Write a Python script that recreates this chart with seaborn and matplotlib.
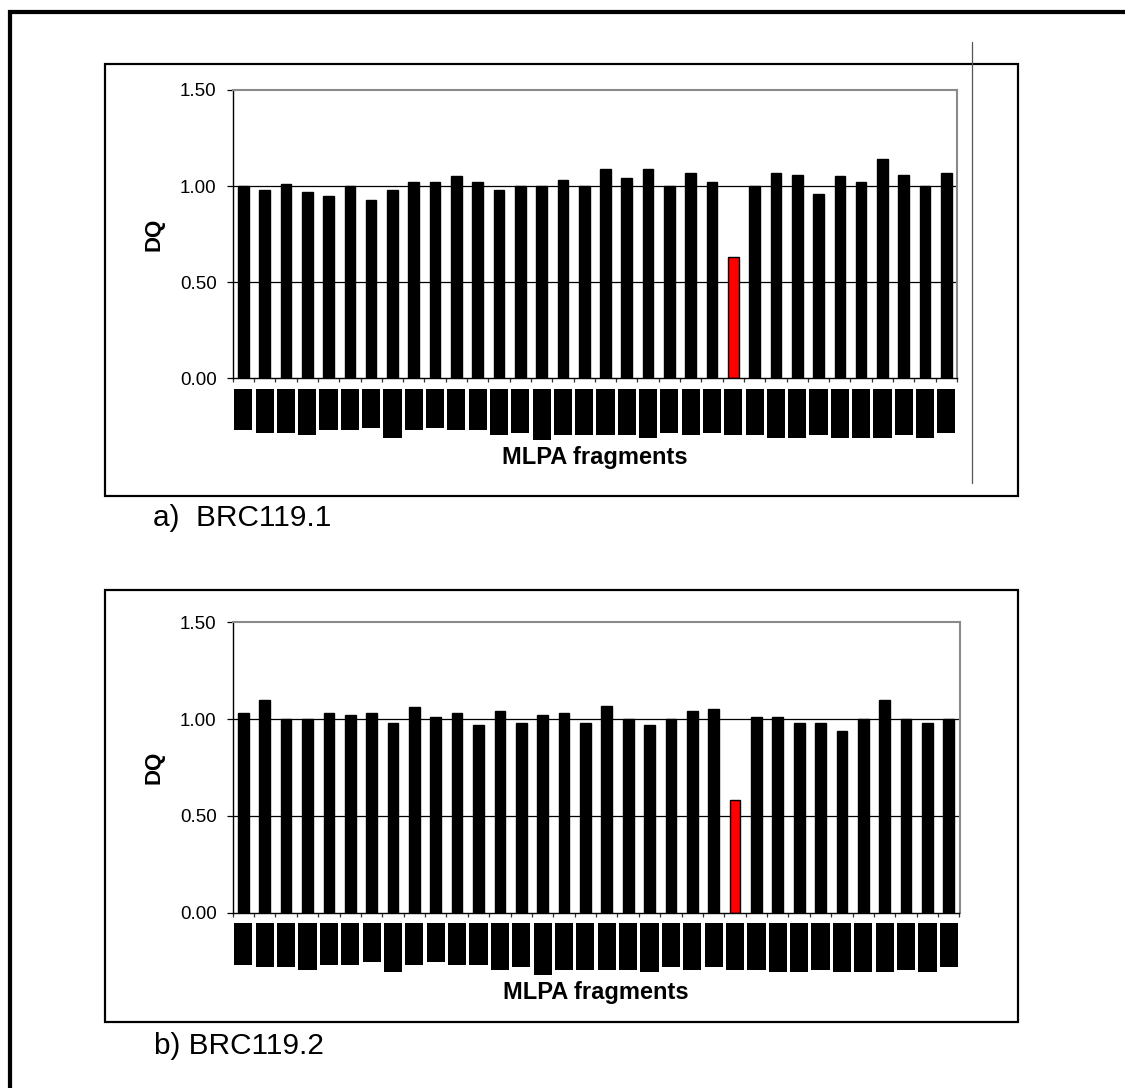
import matplotlib
matplotlib.use("Agg")
import matplotlib.pyplot as plt
from matplotlib.lines import Line2D
from matplotlib.patches import Rectangle
import seaborn as sns
import pandas as pd

# ---------------- data ----------------
fragments = [
    "BRCA1 ex 1a", "BRCA1 exon 2", "BRCA1 exon 3", "BRCA1 exon 5a", "BRCA1 ex 5b",
    "BRCA1 ex 6a", "BRCA1 ex 7", "BRCA1 exon 8ab", "BRCA1 ex 10", "BRCA2 ex 2",
    "BRCA2 ex 3a", "BRCA2 ex 3b", "BRCA2 exon 5a", "BRCA2 exon 7", "BRCA2 exon 10ab",
    "BRCA2 exon 11", "BRCA2 exon 12", "BRCA2 exon 14", "BRCA2 exon 16", "BRCA2 exon 18a",
    "BRCA2 exon 9", "BRCA2 exon 20", "BRCA2 exon 6", "BRCA2 exon 22", "BRCA2 exon 23",
    "BRCA2 exon 24a", "BRCA2 exon 25b", "BRCA2 exon 26", "BRCA2 exon 27a", "BRCA2 exon 27b",
    "BRCA2 exon 27c", "CHEK2 exon 10", "control 5q31.2", "control 7p14",
]

dq_brc119_1 = [1.00, 0.98, 1.01, 0.97, 0.95, 1.00, 0.93, 0.98, 1.02, 1.02,
               1.05, 1.02, 0.98, 1.00, 1.00, 1.03, 1.00, 1.09, 1.04, 1.09,
               1.00, 1.07, 1.02, 0.63, 1.00, 1.07, 1.06, 0.96, 1.05, 1.02,
               1.14, 1.06, 1.00, 1.07]

dq_brc119_2 = [1.03, 1.10, 1.00, 1.00, 1.03, 1.02, 1.03, 0.98, 1.06, 1.01,
               1.03, 0.97, 1.04, 0.98, 1.02, 1.03, 0.98, 1.07, 1.00, 0.97,
               1.00, 1.04, 1.05, 0.58, 1.01, 1.01, 0.98, 0.98, 0.94, 1.00,
               1.10, 1.00, 0.98, 1.00]

deleted_fragment = "BRCA2 exon 22"
y_ticks = [0.0, 0.5, 1.0, 1.5]
panel_captions = ["a)  BRC119.1", "b) BRC119.2"]
y_title = "DQ"
x_title = "MLPA fragments"

# ---------------- style ----------------
sns.set_theme(style="white")
plt.rcParams["font.family"] = ["Liberation Sans", "DejaVu Sans"]
plt.rcParams["text.color"] = "black"
plt.rcParams["axes.labelcolor"] = "black"
plt.rcParams["xtick.color"] = "black"
plt.rcParams["ytick.color"] = "black"

W, H = 1125, 1088
fig = plt.figure(figsize=(W / 100, H / 100), dpi=100)


def fx(x):
    return x / W


def fy(y):
    return 1 - y / H


def px2pt(p):
    return p * 0.72


colors = ["#FF0000" if f == deleted_fragment else "#000000" for f in fragments]

# page frame (left + top thick lines)
fig.add_artist(Line2D([fx(10.3), fx(10.3), fx(1140)], [fy(1100), fy(11.7), fy(11.7)],
                      color="black", lw=px2pt(4.2), solid_joinstyle="miter"))

panels = [
    dict(data=dq_brc119_1, ax=(232.7, 90.0, 957.0, 378.3), box=(105, 64, 1018, 496),
         cap=(153, 518), caption=panel_captions[0]),
    dict(data=dq_brc119_2, ax=(232.7, 622.3, 959.5, 912.7), box=(105, 590, 1018, 1022),
         cap=(154, 1046), caption=panel_captions[1]),
]

for i, p in enumerate(panels):
    # chart-area frame
    bx0, by0, bx1, by1 = p["box"]
    fig.add_artist(Rectangle((fx(bx0), fy(by1)), fx(bx1 - bx0), (by1 - by0) / H,
                             fill=False, edgecolor="black", lw=px2pt(2.2),
                             transform=fig.transFigure))

    x0, y0, x1, y1 = p["ax"]
    ax = fig.add_axes([fx(x0), fy(y1), (x1 - x0) / W, (y1 - y0) / H])
    df = pd.DataFrame({"fragment": fragments, "dq": p["data"]})
    sns.barplot(data=df, x="fragment", y="dq", hue="fragment", order=fragments,
                hue_order=fragments, palette=colors, legend=False, saturation=1,
                width=0.5, edgecolor="black", linewidth=1.0, ax=ax, errorbar=None)

    ax.set_xlim(-0.5, len(fragments) - 0.5)
    ax.set_ylim(0, 1.5)
    ax.set_yticks(y_ticks)
    ax.set_yticklabels([f"{v:.2f}" for v in y_ticks])
    ax.set_axisbelow(True)
    for v in y_ticks[1:-1]:
        ax.axhline(v, color="black", lw=0.9, zorder=0)

    # spines
    for s in ["left", "bottom"]:
        ax.spines[s].set_color("black")
        ax.spines[s].set_linewidth(1.0)
    for s in ["top", "right"]:
        ax.spines[s].set_color("#8a8a8a")
        ax.spines[s].set_linewidth(1.5)

    ax.tick_params(axis="y", which="major", direction="out", length=px2pt(6),
                   width=0.9, color="black", labelcolor="black", pad=px2pt(10),
                   labelsize=13.5, left=True)
    # category boundary ticks
    ax.set_xticks([k - 0.5 for k in range(len(fragments) + 1)], minor=True)
    ax.tick_params(axis="x", which="minor", direction="out", length=px2pt(4),
                   width=0.9, color="#333333", bottom=True)
    ax.tick_params(axis="x", which="major", length=0, pad=px2pt(17.5), bottom=True)

    # fragment names: redacted (black text on black box), as in the original
    for lab in ax.get_xticklabels():
        lab.set_rotation(90)
        lab.set_fontfamily("DejaVu Sans Mono")
        lab.set_fontsize(3)
        lab.set_color("black")
        lab.set_bbox(dict(boxstyle="square,pad=1.7", facecolor="black",
                          edgecolor="black", lw=0))

    ax.set_ylabel(y_title, fontsize=16, fontweight="bold", color="black")
    ax.yaxis.set_label_coords((165 - x0) / (x1 - x0), 0.5)
    ax.set_xlabel(x_title, fontsize=17, fontweight="bold", color="black")
    ax.xaxis.set_label_coords(0.5, -68.0 / (y1 - y0))

    fig.text(fx(p["cap"][0]), fy(p["cap"][1]), p["caption"], fontsize=21.4,
             ha="left", va="center", color="black")

# thin vertical rule in the first panel
fig.add_artist(Line2D([fx(972.3), fx(972.3)], [fy(42), fy(483)], color="#555555",
                      lw=0.9))

fig.savefig("out.png", dpi=100)
